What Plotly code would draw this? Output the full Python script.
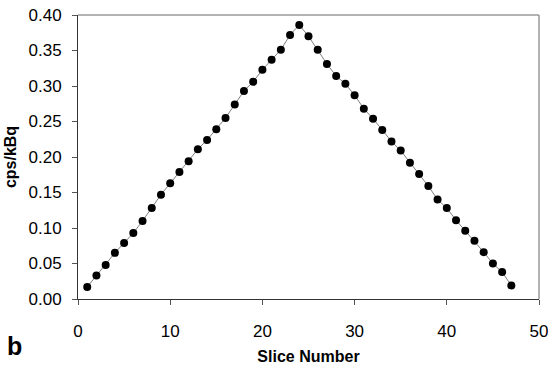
import plotly.graph_objects as go

# Slice profile: count rate per activity for each slice
slice_number = list(range(1, 48))
cps_per_kbq = [
    0.017, 0.033, 0.048, 0.065, 0.079, 0.093, 0.110, 0.128, 0.147, 0.163,
    0.179, 0.194, 0.211, 0.224, 0.239, 0.255, 0.274, 0.293, 0.306, 0.323,
    0.337, 0.351, 0.372, 0.386, 0.370, 0.351, 0.331, 0.314, 0.303, 0.287,
    0.268, 0.254, 0.238, 0.222, 0.209, 0.192, 0.176, 0.159, 0.140, 0.128,
    0.111, 0.096, 0.082, 0.066, 0.050, 0.038, 0.019,
]

x_ticks = [0, 10, 20, 30, 40, 50]
y_ticks = [0.00, 0.05, 0.10, 0.15, 0.20, 0.25, 0.30, 0.35, 0.40]

fig = go.Figure()
fig.add_trace(go.Scatter(
    x=slice_number, y=cps_per_kbq,
    mode="lines+markers",
    line=dict(color="#808080", width=1),
    marker=dict(color="black", size=8),
    showlegend=False,
    cliponaxis=False,
))

family = "Liberation Sans, Arial, sans-serif"
axis_font = dict(family=family, size=17, color="black")
title_font = dict(family=family, size=16, color="black")

fig.update_xaxes(
    range=[0, 50], tickvals=x_ticks, ticktext=[str(v) for v in x_ticks],
    showgrid=False, zeroline=False, automargin=False,
    showline=True, linecolor="#333333", linewidth=1,
    ticks="outside", ticklen=5, tickcolor="#555555",
    tickfont=axis_font, ticklabelstandoff=12, ticklabeloverflow="allow",
    title=dict(text="<b>Slice Number</b>", font=title_font, standoff=12),
)
fig.update_yaxes(
    range=[0, 0.40], tickvals=y_ticks, ticktext=[f"{v:.2f}" for v in y_ticks],
    showgrid=False, zeroline=False, automargin=False,
    showline=True, linecolor="#333333", linewidth=1,
    ticks="outside", ticklen=5, tickcolor="#555555",
    tickfont=axis_font, ticklabelstandoff=7, ticklabeloverflow="allow",
    title=dict(text="<b>cps/kBq</b>", font=title_font, standoff=7),
)

# Top and right frame edges in gray
fig.add_shape(type="line", xref="paper", yref="paper", x0=0, x1=1, y0=1, y1=1,
              line=dict(color="#9a9a9a", width=1.5))
fig.add_shape(type="line", xref="paper", yref="paper", x0=1, x1=1, y0=0, y1=1,
              line=dict(color="#9a9a9a", width=1.5))

# Panel label
fig.add_annotation(text="<b>b</b>", xref="paper", yref="paper",
                   x=-0.158, y=-0.222, xanchor="left", yanchor="bottom",
                   showarrow=False,
                   font=dict(family=family, size=25, color="black"))

fig.update_layout(
    width=548, height=365,
    margin=dict(l=78, r=9, t=15, b=66),
    paper_bgcolor="white", plot_bgcolor="white",
)

fig.write_html("out.html")
